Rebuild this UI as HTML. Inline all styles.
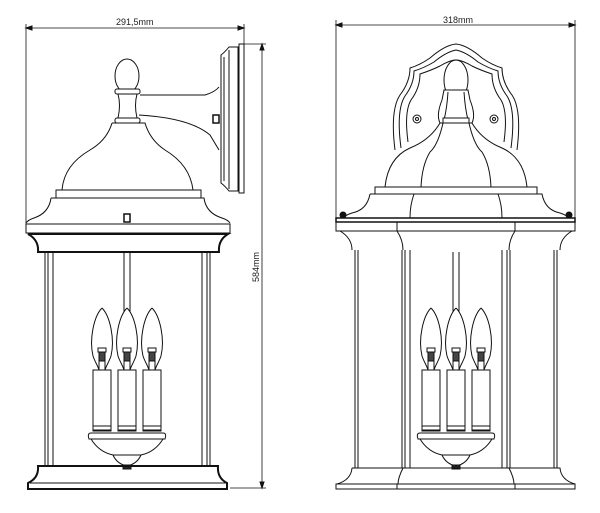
<!DOCTYPE html>
<html><head><meta charset="utf-8"><style>
html,body{margin:0;padding:0;background:#fff}
svg{display:block}
text{font-family:"Liberation Sans",sans-serif;font-size:9px;fill:#222;stroke:none}
</style></head><body>
<svg width="600" height="513" viewBox="0 0 600 513" xmlns="http://www.w3.org/2000/svg" fill="none" stroke="#111" stroke-width="1">
<defs>
<g id="cand">
  <path d="M-3 -52V8 M3 -52V8"/>
  <g id="bulb">
    <path d="M0 4 C-8 12,-13 35,-9 52 C-7 58,-4 62,-3 66 M0 4 C8 12,13 35,9 52 C7 58,4 62,3 66"/>
    <rect x="-4" y="44" width="8" height="4" fill="#fff"/>
    <rect x="-3" y="48" width="6" height="10" fill="#444"/>
    <rect x="-3" y="57" width="6" height="9" fill="#fff"/>
    <rect x="-9" y="66" width="18" height="61" fill="#fff"/>
    <rect x="-9" y="122" width="18" height="4"/>
  </g>
  <use href="#bulb" x="-25"/>
  <use href="#bulb" x="25"/>
  <path d="M-36 129 H36 Q40 129 38 135 H-38 Q-40 129 -36 129Z" fill="#fff"/>
  <path d="M-36 135 Q-28 148 -14 151 Q-10 160 0 162 Q10 160 14 151 Q28 148 36 135"/>
  <path d="M-14 151 H14"/>
  <rect x="-4" y="161" width="8" height="4" fill="#222"/>
</g>
</defs>

<!-- ===== LEFT LAMP ===== -->
<path d="M26 28H244 M26 24V226 M244 24V44" stroke-width="0.8"/>
<path d="M26 28l6 -2v4z M244 28l-6 -2v4z" fill="#111"/>
<text x="116" y="25">291,5mm</text>
<path d="M262 44V488 M244 44H266 M230 488H266" stroke-width="0.8"/>
<path d="M262 44l-2 6h4z M262 488l-2 -6h4z" fill="#111"/>
<text transform="translate(259,282) rotate(-90)">584mm</text>

<rect x="239" y="44" width="5" height="149"/>
<path d="M238 47H229 Q225 52 221 55 V183 Q225 186 229 191 H238Z"/>
<path d="M224 57V181 M229 50V189"/>
<path d="M140 95 H205 Q215 92 219 87"/>
<path d="M139 115 Q190 118 210 135 Q216 145 219 150"/>
<rect x="213" y="115" width="6" height="8" fill="#fff" stroke-width="1.5"/>
<ellipse cx="127" cy="76" rx="12" ry="17"/>
<rect x="115" y="89" width="25" height="5" rx="2" fill="#fff"/>
<path d="M118 94 Q121 105 118 118 M137 94 Q134 105 137 118"/>
<rect x="115" y="118" width="25" height="5" rx="2" fill="#fff"/>
<path d="M112 123 H145 Q150 140 165 150 Q190 165 193 190 M112 123 Q107 140 90 150 Q64 165 62 190"/>
<rect x="56" y="190" width="145" height="8"/>
<path d="M51 198 H204 Q206 213 222 218 Q228 220 230 223 M51 198 Q49 213 34 218 Q28 220 26 223"/>
<rect x="124" y="214" width="6" height="8" fill="#fff" stroke-width="1.5"/>
<rect x="26" y="224" width="204" height="9"/>
<path d="M28 234 H228 Q218 240 219 252 H38 Q39 240 28 234Z" stroke-width="2"/>
<path d="M45 252V465 M48 252V465 M53 252V465 M202 252V465 M207 252V465 M210 252V465"/>
<use href="#cand" x="127" y="304"/>
<path d="M38 466 H218 Q217 478 227 483 V489 H28 V483 Q39 478 38 466Z" stroke-width="2"/>
<path d="M30 483H226"/>

<!-- ===== RIGHT LAMP ===== -->
<path d="M336 25H575 M336 20V225 M575 20V225" stroke-width="0.8"/>
<path d="M336 25l6 -2v4z M575 25l-6 -2v4z" fill="#111"/>
<text x="443" y="23">318mm</text>
<path d="M395 150 Q390 110 400 95 Q410 82 410 68 Q420 65 430 58 Q445 45 456 44 Q467 45 482 58 Q492 65 502 68 Q502 82 512 95 Q522 110 517 150"/>
<path d="M401 148 Q396 110 405 96 Q414 84 414 71 Q424 68 434 62 Q446 52 456 50 Q466 52 478 62 Q488 68 498 71 Q498 84 507 96 Q516 110 511 148"/>
<path d="M408 142 Q404 112 411 100 Q420 88 420 74 Q432 70 440 66 Q450 60 456 60 Q462 60 472 66 Q480 70 492 74 Q492 88 501 100 Q508 112 504 142"/>
<circle cx="417" cy="119" r="4"/><circle cx="417" cy="119" r="1.5"/>
<circle cx="494" cy="119" r="4"/><circle cx="494" cy="119" r="1.5"/>
<ellipse cx="456" cy="80" rx="12" ry="20"/>
<path d="M444 90 H468 L470 100 Q476 115 472 123 H440 Q436 115 442 100Z" fill="#fff"/>
<path d="M448 92 Q447 108 444 120 M464 92 Q465 108 468 120"/>
<rect x="443" y="118" width="26" height="5" fill="#fff"/>
<path d="M440 123 Q430 140 410 148 Q388 158 385 187 M472 123 Q482 140 502 148 Q524 158 527 187"/>
<path d="M443 123 Q438 145 430 152 Q422 165 421 187 M469 123 Q474 145 482 152 Q490 165 491 187"/>
<rect x="375" y="187" width="162" height="7"/>
<path d="M370 194 H542 Q545 210 560 213 Q566 215 570 218 M370 194 Q367 210 352 213 Q346 215 342 218"/>
<path d="M414 194 Q410 205 410 218 M498 194 Q502 205 502 218"/>
<circle cx="343" cy="215" r="3" fill="#111"/><circle cx="569" cy="215" r="3" fill="#111"/>
<rect x="336" y="218" width="239" height="4" stroke-width="1.5"/>
<rect x="336" y="222" width="239" height="9"/>
<path d="M397 222V231 M515 222V231"/>
<path d="M340 231 Q352 238 352 250 M572 231 Q560 238 560 250 M397 231 Q403 240 403 250 M515 231 Q509 240 509 250"/>
<path d="M355 250V468 M358 250V468 M402 250V468 M405 250V468 M410 250V468 M502 250V468 M507 250V468 M510 250V468 M554 250V468 M557 250V468"/>
<use href="#cand" x="456" y="304"/>
<path d="M352 468 H560 Q561 480 575 484 M352 468 Q351 480 337 484 M403 468 Q398 478 398 484 M509 468 Q514 478 514 484"/>
<rect x="336" y="484" width="239" height="5"/>
<path d="M397 484V489 M515 484V489"/>
</svg>
</body></html>
